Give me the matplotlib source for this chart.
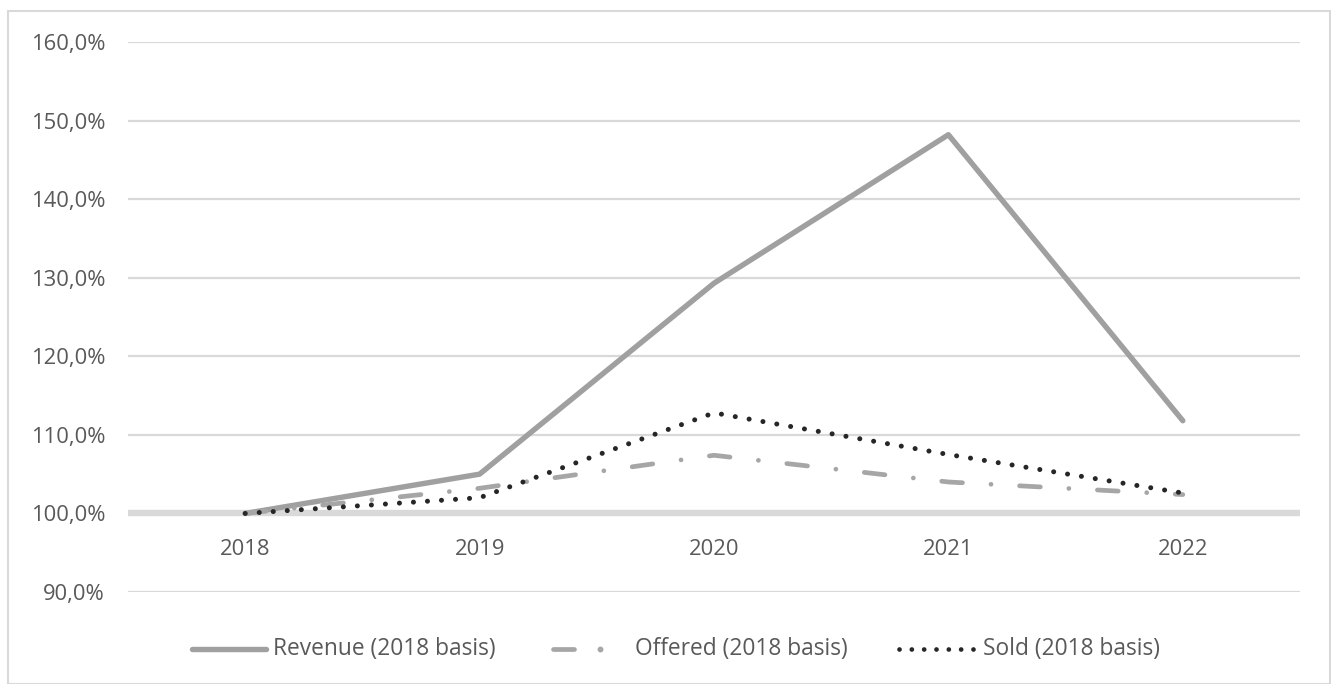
import matplotlib
matplotlib.use("Agg")
import matplotlib.pyplot as plt
from matplotlib.lines import Line2D
from matplotlib.patches import Rectangle

years = ["2018", "2019", "2020", "2021", "2022"]
revenue = [100.0, 105.0, 129.3, 148.2, 111.8]
offered = [100.0, 103.2, 107.4, 104.0, 102.4]
sold = [100.0, 102.0, 112.8, 107.5, 102.6]
y_ticks = [90, 100, 110, 120, 130, 140, 150, 160]
labels = ["Revenue (2018 basis)", "Offered (2018 basis)", "Sold (2018 basis)"]

plt.rcParams["font.family"] = ["Open Sans", "DejaVu Sans"]
text_color = "#595959"
grid_color = "#d9d9d9"
rev_color, off_color, sold_color = "#a0a0a0", "#a6a6a6", "#262626"
FS = 15.8
off_dashes = [4.4, 6.05, 0.01, 6.05]
sold_dashes = [0.01, 2.8]

W, H = 1331, 684
fig = plt.figure(figsize=(W / 100, H / 100), dpi=100)
fig.patches.append(Rectangle((8 / W, 0), (W - 9) / W, (H - 11) / H,
                             transform=fig.transFigure, fill=False,
                             edgecolor="#d9d9d9", linewidth=1.5))

ax = fig.add_axes([128 / W, 1 - 592 / H, (1300 - 128) / W, (592 - 42) / H])
x = list(range(len(years)))

ax.set_xlim(-0.5, len(years) - 0.5)
ax.set_ylim(90, 160)
for s in ax.spines.values():
    s.set_visible(False)
ax.set_xticks([])
ax.set_yticks(y_ticks)
ax.set_yticklabels([f"{v:.1f}%".replace(".", ",") for v in y_ticks],
                   fontsize=FS, color=text_color)
ax.tick_params(axis="y", length=0, pad=16.5)

for v in y_ticks:
    lw = 4.6 if v == 100 else 1.6
    ax.axhline(v, color=grid_color, linewidth=lw, zorder=1)

for i, lab in enumerate(years):
    ax.annotate(lab, xy=(i, 100), xytext=(0, -36), textcoords="offset pixels",
                ha="center", va="center", fontsize=FS, color=text_color)

rev_line, = ax.plot(x, revenue, color=rev_color, linewidth=3.9,
                    solid_capstyle="round", zorder=3)
off_line, = ax.plot(x, offered, color=off_color, linewidth=3.4,
                    dash_capstyle="round", zorder=3)
off_line.set_dashes(off_dashes)
sold_line, = ax.plot(x, sold, color=sold_color, linewidth=3.6,
                     dash_capstyle="round", zorder=4)
sold_line.set_dashes(sold_dashes)

# legend row drawn in pixel positions along the bottom
def fx(px):
    return px / W

ly = 1 - 649 / H
fig.add_artist(Line2D([fx(192), fx(266)], [ly, ly], color=rev_color,
                      linewidth=3.9, solid_capstyle="round"))
fig.add_artist(Line2D([fx(553), fx(574)], [ly, ly], color=off_color,
                      linewidth=3.4, solid_capstyle="round"))
fig.add_artist(Line2D([fx(600)], [ly], color=off_color, marker="o",
                      markersize=3.2, linestyle="none"))
fig.add_artist(Line2D([fx(899), fx(975)], [ly, ly], color=sold_color,
                      linewidth=3.4, dash_capstyle="round", dashes=[0.01, 2.6]))
for px, lab in zip([273, 635, 983], labels):
    fig.text(fx(px), ly, lab, ha="left", va="center", fontsize=FS + 0.6,
             color=text_color)

fig.savefig("out.png", dpi=100)
